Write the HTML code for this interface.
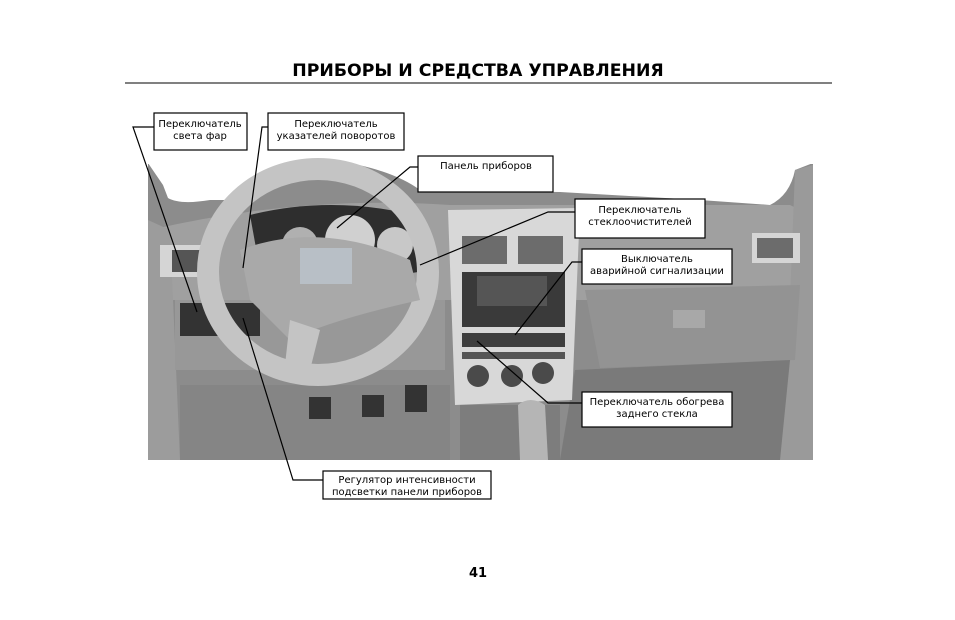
<!DOCTYPE html>
<html><head><meta charset="utf-8"><style>
html,body{margin:0;padding:0;background:#fff;}
svg{display:block}
text{font-family:"DejaVu Sans","Liberation Sans",sans-serif;font-size:10px;fill:#000}
</style></head><body>
<svg width="955" height="620" viewBox="0 0 955 620" xmlns="http://www.w3.org/2000/svg">
<text x="478" y="76" text-anchor="middle" style="font-size:17.3px;font-weight:bold;font-family:'DejaVu Sans','Liberation Sans',sans-serif">ПРИБОРЫ И СРЕДСТВА УПРАВЛЕНИЯ</text>
<line x1="125" y1="83" x2="832" y2="83" stroke="#000" stroke-width="1"/>

<g>
<rect x="148" y="163" width="665" height="297" fill="#8c8c8c"/>
<path d="M148 163 H813 L795 170 Q790 195 770 205 L700 200 L560 192 L420 190 Q390 168 330 160 Q270 170 240 200 L210 200 Q180 205 168 198 L163 185 Z" fill="#fff"/>
<path d="M148 163 H813" stroke="#fff" stroke-width="2"/>
<path d="M150 230 Q300 195 450 205 L790 205 L810 215 L810 300 L150 300 Z" fill="#a0a0a0"/>
<path d="M795 170 L813 165 L813 460 L780 460 L790 300 Z" fill="#9a9a9a"/>
<path d="M148 220 L170 230 L180 460 L148 460 Z" fill="#9c9c9c"/>
<rect x="175" y="300" width="270" height="70" fill="#989898"/>
<rect x="180" y="385" width="270" height="75" fill="#858585"/>
<path d="M585 290 L800 285 L795 360 L600 368 Z" fill="#939393"/>
<rect x="673" y="310" width="32" height="18" fill="#a8a8a8"/>
<path d="M575 370 L790 360 L780 460 L560 460 Z" fill="#7a7a7a"/>
<path d="M448 210 L580 208 L572 400 L455 405 Z" fill="#d8d8d8"/>
<rect x="462" y="236" width="45" height="28" fill="#6c6c6c"/>
<rect x="518" y="236" width="45" height="28" fill="#6c6c6c"/>
<rect x="462" y="272" width="103" height="55" fill="#3a3a3a"/>
<rect x="477" y="276" width="70" height="30" fill="#555"/>
<rect x="462" y="333" width="103" height="14" fill="#3e3e3e"/>
<rect x="462" y="352" width="103" height="7" fill="#555"/>
<circle cx="478" cy="376" r="11" fill="#4a4a4a"/>
<circle cx="512" cy="376" r="11" fill="#4a4a4a"/>
<circle cx="543" cy="373" r="11" fill="#4a4a4a"/>
<rect x="460" y="405" width="100" height="55" fill="#7d7d7d"/>
<path d="M518 405 Q530 395 545 405 L548 460 L520 460 Z" fill="#b5b5b5"/>
<rect x="752" y="233" width="48" height="30" fill="#d5d5d5"/>
<rect x="757" y="238" width="36" height="20" fill="#6c6c6c"/>
<rect x="160" y="245" width="50" height="32" fill="#d5d5d5"/>
<rect x="172" y="250" width="34" height="22" fill="#555"/>
<path d="M250 215 Q330 195 415 215 L430 270 L400 275 L260 270 Z" fill="#2e2e2e"/>
<circle cx="350" cy="240" r="25" fill="#d0d0d0"/>
<circle cx="395" cy="245" r="18" fill="#c8c8c8"/>
<circle cx="300" cy="245" r="18" fill="#b0b0b0"/>
<rect x="180" y="303" width="80" height="33" fill="#333"/>
<ellipse cx="318" cy="272" rx="110" ry="103" fill="none" stroke="#c4c4c4" stroke-width="22"/>
<path d="M240 250 Q320 220 410 260 L420 300 Q330 320 290 340 L250 300 Z" fill="#a9a9a9"/>
<rect x="300" y="248" width="52" height="36" fill="#b8bfc6"/>
<path d="M290 320 L320 330 L310 370 L285 365 Z" fill="#c4c4c4"/>
<rect x="309" y="397" width="22" height="22" fill="#333"/>
<rect x="362" y="395" width="22" height="22" fill="#333"/>
<rect x="405" y="385" width="22" height="27" fill="#333"/>
</g>

<g fill="none" stroke="#000" stroke-width="1.2">
<polyline points="154,127 133,127 197,312"/>
<polyline points="268,127 262,127 243,268"/>
<polyline points="418,167 410,167 337,228"/>
<polyline points="575,212 548,212 420,265"/>
<polyline points="582,262 572,262 515,335"/>
<polyline points="582,403 548,403 477,341"/>
<polyline points="323,480 293,480 243,318"/>
</g>

<g fill="#fff" stroke="#000" stroke-width="1.2">
<rect x="154" y="113" width="93" height="37"/>
<rect x="268" y="113" width="136" height="37"/>
<rect x="418" y="156" width="135" height="36"/>
<rect x="575" y="199" width="130" height="39"/>
<rect x="582" y="249" width="150" height="35"/>
<rect x="582" y="392" width="150" height="35"/>
<rect x="323" y="471" width="168" height="28"/>
</g>
<g text-anchor="middle">
<text x="200" y="127">Переключатель</text><text x="200" y="139">света фар</text>
<text x="336" y="127">Переключатель</text><text x="336" y="139">указателей поворотов</text>
<text x="486" y="169">Панель приборов</text>
<text x="640" y="213">Переключатель</text><text x="640" y="225">стеклоочистителей</text>
<text x="657" y="262">Выключатель</text><text x="657" y="274">аварийной сигнализации</text>
<text x="657" y="405">Переключатель обогрева</text><text x="657" y="417">заднего стекла</text>
<text x="407" y="483">Регулятор интенсивности</text><text x="407" y="495">подсветки панели приборов</text>
</g>
<text x="478" y="577" text-anchor="middle" style="font-size:13px;font-weight:bold">41</text>
</svg>
</body></html>
